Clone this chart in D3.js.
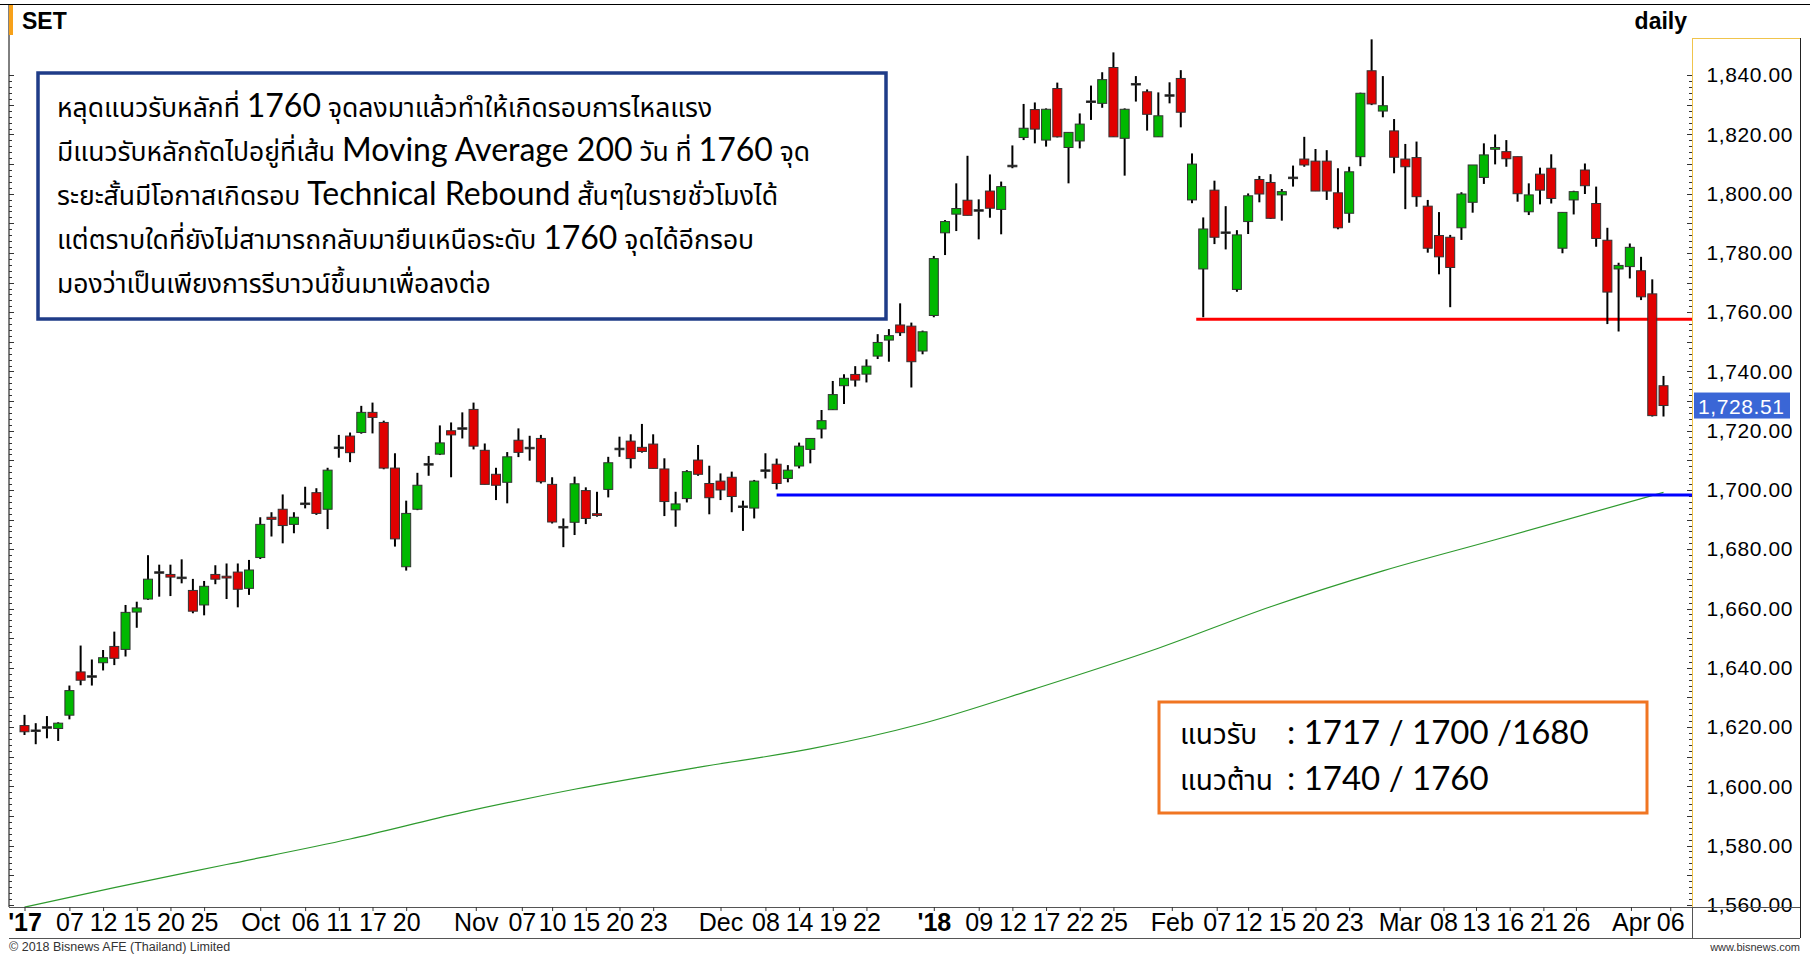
<!DOCTYPE html>
<html>
<head>
<meta charset="utf-8">
<script src="https://cdn.jsdelivr.net/npm/d3@7"></script>
<style>
  body { margin: 0; background: #fff; }
  svg { display: block; }
</style>
</head>
<body>
<svg id="chart" width="1810" height="954"></svg>
<script>
// SET index daily candles, Sep 2017 - Apr 2018
const opens = [
  1620.5, 1619.0, 1620.0, 1619.5, 1624.0, 1638.6, 1637.2, 1641.7, 1647.2, 1646.2,
  1658.8, 1663.2, 1672.3, 1671.5, 1670.5, 1666.1, 1661.2, 1671.5, 1670.9, 1672.3,
  1666.8, 1677.2, 1690.8, 1693.5, 1688.4, 1695.5, 1699.1, 1693.5, 1714.4, 1718.2,
  1719.4, 1726.2, 1722.8, 1707.4, 1674.1, 1693.5, 1708.8, 1712.1, 1720.0, 1720.9,
  1727.2, 1713.4, 1705.3, 1702.6, 1716.8, 1714.3, 1717.4, 1701.9, 1687.6, 1689.1,
  1699.8, 1692.0, 1700.2, 1714.0, 1716.5, 1714.4, 1715.5, 1707.1, 1693.3, 1697.1,
  1710.1, 1702.2, 1703.0, 1704.3, 1694.5, 1693.9, 1706.7, 1708.7, 1703.9, 1708.1,
  1713.7, 1720.6, 1727.1, 1735.2, 1739.0, 1739.1, 1745.2, 1750.6, 1755.7, 1755.3,
  1746.9, 1758.9, 1786.8, 1793.1, 1797.8, 1794.5, 1800.9, 1794.7, 1809.5, 1819.0,
  1828.4, 1818.1, 1835.5, 1815.6, 1817.8, 1831.2, 1830.5, 1842.6, 1818.7, 1837.1,
  1834.4, 1819.2, 1833.3, 1838.9, 1797.9, 1774.6, 1801.2, 1787.0, 1767.7, 1790.6,
  1804.8, 1803.8, 1799.6, 1805.5, 1811.7, 1811.0, 1811.0, 1800.3, 1793.4, 1812.5,
  1841.5, 1827.9, 1821.2, 1811.7, 1812.2, 1795.8, 1785.9, 1785.3, 1788.5, 1797.1,
  1805.5, 1815.0, 1814.2, 1812.5, 1793.9, 1806.6, 1808.6, 1781.6, 1797.9, 1808.0,
  1796.7, 1784.3, 1774.6, 1775.4, 1774.0, 1766.2, 1735.2
];
const highs = [
  1624.1, 1621.3, 1623.7, 1621.6, 1634.0, 1647.5, 1642.8, 1646.0, 1652.2, 1661.2,
  1662.3, 1678.0, 1674.8, 1674.8, 1676.6, 1670.0, 1669.3, 1674.6, 1675.2, 1675.2,
  1676.4, 1690.8, 1692.5, 1698.5, 1692.5, 1701.1, 1700.6, 1707.5, 1718.6, 1719.4,
  1728.4, 1729.5, 1723.4, 1712.4, 1696.4, 1705.8, 1711.5, 1721.8, 1722.8, 1726.2,
  1729.5, 1715.7, 1707.5, 1712.8, 1720.8, 1718.3, 1718.6, 1704.3, 1690.4, 1704.5,
  1700.9, 1699.4, 1711.2, 1718.0, 1718.8, 1722.3, 1718.8, 1710.7, 1699.4, 1706.7,
  1715.2, 1708.2, 1705.6, 1706.2, 1696.4, 1703.4, 1712.4, 1710.6, 1708.4, 1716.0,
  1717.4, 1727.0, 1736.8, 1739.1, 1741.8, 1744.1, 1752.6, 1754.3, 1763.0, 1756.5,
  1753.8, 1779.0, 1791.1, 1803.5, 1812.8, 1798.1, 1806.5, 1804.1, 1816.3, 1830.3,
  1830.8, 1828.8, 1837.5, 1820.7, 1827.1, 1836.5, 1841.0, 1847.7, 1828.8, 1839.7,
  1835.2, 1834.2, 1837.6, 1841.7, 1813.6, 1792.0, 1804.4, 1795.8, 1787.7, 1800.1,
  1806.0, 1806.6, 1801.6, 1809.5, 1819.2, 1815.1, 1814.7, 1808.6, 1809.1, 1834.1,
  1852.1, 1839.7, 1825.2, 1816.8, 1817.6, 1797.9, 1793.8, 1786.1, 1800.5, 1809.7,
  1817.0, 1820.0, 1818.1, 1812.5, 1803.5, 1808.8, 1813.3, 1793.7, 1801.0, 1810.2,
  1802.4, 1788.5, 1776.7, 1783.2, 1778.7, 1771.1, 1738.5
];
const lows = [
  1617.3, 1614.2, 1616.2, 1615.3, 1622.6, 1634.1, 1634.0, 1639.1, 1640.9, 1643.8,
  1653.5, 1662.9, 1664.0, 1664.2, 1668.5, 1658.4, 1657.7, 1668.2, 1663.2, 1660.4,
  1664.6, 1676.7, 1684.3, 1682.0, 1685.4, 1693.8, 1691.6, 1686.8, 1710.9, 1709.4,
  1719.0, 1719.1, 1707.0, 1680.9, 1672.8, 1693.2, 1704.8, 1711.8, 1704.3, 1717.4,
  1713.7, 1701.9, 1696.6, 1695.5, 1711.1, 1709.9, 1702.2, 1688.7, 1680.7, 1684.8,
  1688.5, 1691.0, 1697.5, 1711.2, 1707.3, 1712.6, 1707.3, 1691.2, 1687.6, 1695.8,
  1704.8, 1691.8, 1696.6, 1692.5, 1686.2, 1690.4, 1703.9, 1700.2, 1702.6, 1707.3,
  1709.0, 1717.4, 1727.0, 1729.0, 1734.9, 1736.3, 1744.2, 1743.3, 1752.0, 1734.6,
  1745.8, 1758.3, 1779.3, 1787.4, 1792.7, 1784.6, 1791.9, 1786.3, 1808.6, 1818.1,
  1817.0, 1815.9, 1819.0, 1803.5, 1815.3, 1824.9, 1829.0, 1819.2, 1806.1, 1831.1,
  1821.3, 1819.2, 1830.5, 1822.4, 1796.8, 1758.3, 1783.0, 1781.2, 1766.9, 1786.4,
  1797.1, 1791.5, 1790.9, 1802.4, 1809.1, 1800.9, 1797.9, 1788.0, 1790.2, 1809.3,
  1829.9, 1825.8, 1806.9, 1794.8, 1795.6, 1780.1, 1772.8, 1761.7, 1784.4, 1793.6,
  1803.3, 1809.9, 1809.1, 1797.3, 1792.8, 1796.4, 1796.7, 1779.9, 1793.0, 1799.9,
  1782.1, 1756.0, 1753.5, 1771.4, 1764.1, 1724.8, 1724.8
];
const closes = [
  1618.4, 1618.8, 1620.1, 1621.3, 1632.3, 1635.8, 1637.3, 1643.4, 1643.2, 1658.7,
  1660.2, 1669.9, 1672.4, 1670.6, 1670.6, 1659.1, 1667.5, 1669.9, 1670.3, 1666.5,
  1673.0, 1688.4, 1690.1, 1688.0, 1690.8, 1695.6, 1692.1, 1706.7, 1714.5, 1712.6,
  1726.2, 1724.5, 1707.4, 1683.5, 1692.1, 1701.6, 1708.9, 1715.9, 1718.6, 1721.0,
  1714.8, 1701.9, 1701.6, 1711.2, 1712.7, 1714.4, 1702.8, 1689.2, 1687.7, 1702.1,
  1690.4, 1691.4, 1709.2, 1714.1, 1710.6, 1713.0, 1707.3, 1696.1, 1695.3, 1706.2,
  1705.3, 1697.4, 1700.0, 1697.8, 1694.6, 1703.0, 1706.8, 1702.2, 1706.7, 1714.8,
  1717.4, 1723.4, 1732.2, 1737.7, 1737.1, 1741.8, 1749.8, 1752.1, 1753.1, 1743.3,
  1753.4, 1778.1, 1790.6, 1795.0, 1792.7, 1794.6, 1795.1, 1802.4, 1809.6, 1822.1,
  1821.8, 1828.5, 1819.2, 1820.7, 1823.5, 1831.3, 1838.5, 1819.2, 1828.5, 1837.2,
  1826.8, 1826.3, 1833.4, 1827.5, 1810.0, 1788.1, 1785.3, 1787.1, 1786.1, 1799.3,
  1799.9, 1791.7, 1800.7, 1805.6, 1809.7, 1800.9, 1800.9, 1788.5, 1807.4, 1833.9,
  1830.3, 1829.7, 1812.3, 1809.1, 1799.0, 1781.6, 1778.7, 1775.1, 1799.9, 1809.7,
  1813.1, 1815.6, 1811.8, 1800.0, 1799.6, 1801.2, 1798.4, 1793.7, 1800.7, 1802.7,
  1784.9, 1766.8, 1775.8, 1781.9, 1765.2, 1725.1, 1728.51
];

// 200-day moving average, read at a few candles: [candle index, value]
const ma200 = [
  [0, 1559.2], [8, 1565.8], [18, 1573.6], [29, 1582.2], [39, 1591.2],
  [49, 1599.0], [60, 1606.4], [70, 1612.6], [80, 1621.2], [90, 1632.9],
  [101, 1646.6], [111, 1660.6], [121, 1672.7], [131, 1683.2], [146, 1699.2]
];

// date axis labels: [candle index, text]
const xTicks = [
  [0, "'17"], [4, "07"], [7, "12"], [10, "15"], [13, "20"], [16, "25"],
  [21, "Oct"], [25, "06"], [28, "11"], [31, "17"], [34, "20"],
  [40.2, "Nov"], [44.3, "07"], [47, "10"], [50, "15"], [53, "20"], [56, "23"],
  [62, "Dec"], [66, "08"], [69, "14"], [72, "19"], [75, "22"],
  [81, "'18"], [85, "09"], [88, "12"], [91, "17"], [94, "22"], [97, "25"],
  [102.2, "Feb"], [106.2, "07"], [109, "12"], [112, "15"], [115, "20"], [118, "23"],
  [122.5, "Mar"], [126.4, "08"], [129.3, "13"], [132.3, "16"], [135.3, "21"], [138.2, "26"],
  [143.1, "Apr"], [146.6, "06"]
];
const yTicks = d3.range(1560, 1841, 20);

const supportLevel = 1757.6;   // red line
const supportStart = 105;
const maLevel = 1698.3;        // blue line
const maStart = 67;

const svg = d3.select("#chart");
const plot = { left: 9, right: 1692, top: 5, bottom: 907 };

const x = d3.scaleLinear().domain([0, closes.length - 1]).range([24.5, 1663.5]);
const y = d3.scaleLinear().domain([1560, 1840]).range([904.8, 75.2]);

svg.append("defs").append("clipPath").attr("id", "plotClip")
  .append("rect")
  .attr("x", plot.left).attr("y", plot.top)
  .attr("width", plot.right - plot.left).attr("height", plot.bottom - plot.top);

// frame
svg.append("line").attr("x1", 0).attr("x2", 1810).attr("y1", 4.5).attr("y2", 4.5)
  .attr("stroke", "#000").attr("stroke-width", 1);
svg.append("line").attr("x1", plot.left).attr("x2", plot.left).attr("y1", plot.top).attr("y2", plot.bottom)
  .attr("stroke", "#000").attr("stroke-width", 1);
svg.append("rect").attr("x", 9).attr("y", 5).attr("width", 4).attr("height", 30).attr("fill", "#f7a11a");

// left edge ticks (every 2 points, longer every 10)
svg.append("g").selectAll("line")
  .data(d3.range(1560, 1842, 2))
  .join("line")
  .attr("x1", plot.left).attr("x2", d => plot.left + (d % 10 === 0 ? 5 : 3))
  .attr("y1", d => Math.round(y(d)) + 0.5).attr("y2", d => Math.round(y(d)) + 0.5)
  .attr("stroke", "#333");

// right axis panel
svg.append("line").attr("x1", plot.right + 0.5).attr("x2", plot.right + 0.5).attr("y1", 38).attr("y2", plot.bottom)
  .attr("stroke", "#f0c44c").attr("stroke-width", 1);
svg.append("line").attr("x1", plot.right).attr("x2", 1800).attr("y1", 38.5).attr("y2", 38.5)
  .attr("stroke", "#f0c44c").attr("stroke-width", 1);
svg.append("line").attr("x1", 1800.5).attr("x2", 1800.5).attr("y1", 38).attr("y2", 938)
  .attr("stroke", "#222").attr("stroke-width", 1);
svg.append("g").selectAll("line")
  .data(d3.range(1560, 1842, 2))
  .join("line")
  .attr("x1", plot.right).attr("x2", d => plot.right - (d % 10 === 0 ? 5 : 3))
  .attr("y1", d => Math.round(y(d)) + 0.5).attr("y2", d => Math.round(y(d)) + 0.5)
  .attr("stroke", "#333");

const yAxis = svg.append("g")
  .attr("transform", `translate(${plot.right},0)`)
  .call(d3.axisRight(y).tickValues(yTicks).tickFormat(d3.format(",.2f")).tickSize(0));
yAxis.select(".domain").remove();
yAxis.selectAll("text")
  .attr("x", 101).attr("text-anchor", "end")
  .attr("font-family", "Liberation Sans, Arial, sans-serif")
  .attr("font-size", 21).attr("letter-spacing", 0.6).attr("fill", "#000");

// date axis band
svg.append("line").attr("x1", plot.left).attr("x2", 1800).attr("y1", plot.bottom + 0.5).attr("y2", plot.bottom + 0.5)
  .attr("stroke", "#555").attr("stroke-width", 1);
svg.append("line").attr("x1", plot.left).attr("x2", 1800).attr("y1", 938.5).attr("y2", 938.5)
  .attr("stroke", "#555").attr("stroke-width", 1);
svg.append("line").attr("x1", plot.right + 0.5).attr("x2", plot.right + 0.5).attr("y1", plot.bottom).attr("y2", 938)
  .attr("stroke", "#555");

const xAxis = svg.append("g")
  .attr("transform", `translate(0,${plot.bottom})`)
  .call(d3.axisBottom(x).tickValues(xTicks.map(d => d[0]))
    .tickFormat((d, k) => xTicks[k][1]).tickSize(4).tickPadding(2));
xAxis.select(".domain").remove();
xAxis.selectAll(".tick line").attr("stroke", "#333");
xAxis.selectAll("text")
  .attr("font-family", "Liberation Sans Narrow, Arial Narrow, sans-serif")
  .attr("font-size", 25).attr("fill", "#000")
  .attr("font-weight", d => xTicks.find(t => t[0] === d)[1].startsWith("'") ? "bold" : "normal");

// chart body
const body = svg.append("g").attr("clip-path", "url(#plotClip)");

const maLine = d3.line().x(d => x(d[0])).y(d => y(d[1])).curve(d3.curveMonotoneX);
body.append("path")
  .datum(ma200)
  .attr("d", maLine)
  .attr("fill", "none")
  .attr("stroke", "#2e9a2e")
  .attr("stroke-width", 1.2);

body.append("line")
  .attr("x1", x(maStart)).attr("x2", plot.right)
  .attr("y1", y(maLevel)).attr("y2", y(maLevel))
  .attr("stroke", "#0000ff").attr("stroke-width", 3);
body.append("line")
  .attr("x1", x(supportStart) - 7).attr("x2", plot.right)
  .attr("y1", y(supportLevel)).attr("y2", y(supportLevel))
  .attr("stroke", "#ff0000").attr("stroke-width", 3);

const candles = d3.range(closes.length).map(i => ({
  i, o: opens[i], h: highs[i], l: lows[i], c: closes[i]
}));

body.append("g").selectAll("line")
  .data(candles)
  .join("line")
  .attr("x1", d => x(d.i)).attr("x2", d => x(d.i))
  .attr("y1", d => y(d.h)).attr("y2", d => y(d.l))
  .attr("stroke", "#000").attr("stroke-width", 2);

body.append("g").selectAll("rect")
  .data(candles)
  .join("rect")
  .attr("x", d => x(d.i) - 4.5)
  .attr("width", 9)
  .attr("y", d => y(Math.max(d.o, d.c)))
  .attr("height", d => Math.max(1.5, Math.abs(y(d.o) - y(d.c))))
  .attr("fill", d => Math.abs(d.c - d.o) < 0.3 ? "#000" : (d.c >= d.o ? "#00b800" : "#e00000"))
  .attr("stroke", "#333")
  .attr("stroke-width", 1);

// last price tag
const last = closes[closes.length - 1];
svg.append("rect")
  .attr("x", plot.right + 2).attr("y", y(last) - 13)
  .attr("width", 96).attr("height", 26)
  .attr("fill", "#3a66d6");
svg.append("text")
  .attr("x", plot.right + 6).attr("y", y(last) + 8)
  .attr("font-family", "Liberation Sans, Arial, sans-serif")
  .attr("font-size", 21).attr("letter-spacing", 0.6).attr("fill", "#fff")
  .text(d3.format(",.2f")(last));

// titles
svg.append("text").attr("x", 22).attr("y", 29)
  .attr("font-family", "Liberation Sans, Arial, sans-serif").attr("font-weight", "bold")
  .attr("font-size", 23).text("SET");
svg.append("text").attr("x", 1687).attr("y", 29).attr("text-anchor", "end")
  .attr("font-family", "Liberation Sans, Arial, sans-serif").attr("font-weight", "bold")
  .attr("font-size", 23).text("daily");
svg.append("text").attr("x", 9).attr("y", 951)
  .attr("font-family", "Liberation Sans, Arial, sans-serif")
  .attr("font-size", 12.5).attr("fill", "#333").text("\u00a9 2018 Bisnews AFE (Thailand) Limited");
svg.append("text").attr("x", 1800).attr("y", 951).attr("text-anchor", "end")
  .attr("font-family", "Liberation Sans, Arial, sans-serif")
  .attr("font-size", 11).attr("fill", "#333").text("www.bisnews.com");

// commentary box
const thFont = "Noto Sans Thai, Tahoma, Leelawadee UI, sans-serif";
const enFont = "Lato, Carlito, Calibri, sans-serif";
const noteLines = [
  [["th", "หลุดแนวรับหลักที่ "], ["en", "1760"], ["th", " จุดลงมาแล้วทำให้เกิดรอบการไหลแรง"]],
  [["th", "มีแนวรับหลักถัดไปอยู่ที่เส้น "], ["en", "Moving Average 200"], ["th", " วัน ที่ "], ["en", "1760"], ["th", " จุด"]],
  [["th", "ระยะสั้นมีโอกาสเกิดรอบ "], ["en", "Technical Rebound"], ["th", " สั้นๆในรายชั่วโมงได้"]],
  [["th", "แต่ตราบใดที่ยังไม่สามารถกลับมายืนเหนือระดับ "], ["en", "1760"], ["th", " จุดได้อีกรอบ"]],
  [["th", "มองว่าเป็นเพียงการรีบาวน์ขึ้นมาเพื่อลงต่อ"]]
];
svg.append("rect")
  .attr("x", 38).attr("y", 73).attr("width", 848).attr("height", 246)
  .attr("fill", "#fff").attr("stroke", "#1f3c88").attr("stroke-width", 3.5);
const note = svg.append("g");
noteLines.forEach((parts, k) => {
  const t = note.append("text").attr("x", 57).attr("y", 117 + k * 44);
  parts.forEach(p => {
    t.append("tspan")
      .attr("font-family", p[0] === "th" ? thFont : enFont)
      .attr("font-size", p[0] === "th" ? 26.5 : 32)
      .text(p[1]);
  });
});

// support / resistance box
const levelRows = [
  ["แนวรับ", ": 1717 / 1700 /1680"],
  ["แนวต้าน", ": 1740 / 1760"]
];
svg.append("rect")
  .attr("x", 1159).attr("y", 702).attr("width", 488).attr("height", 111)
  .attr("fill", "#fff").attr("stroke", "#f07522").attr("stroke-width", 3);
levelRows.forEach((r, k) => {
  svg.append("text").attr("x", 1180).attr("y", 744 + k * 46)
    .attr("font-family", thFont).attr("font-size", 28).text(r[0]);
  svg.append("text").attr("x", 1287).attr("y", 744 + k * 46)
    .attr("font-family", enFont).attr("font-size", 33).text(r[1]);
});
</script>
</body>
</html>
